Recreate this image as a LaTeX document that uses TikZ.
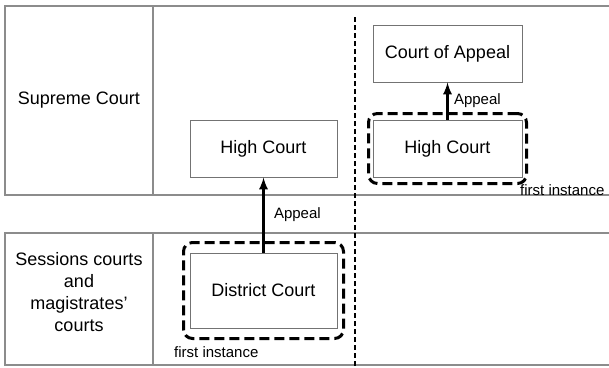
\documentclass[tikz,border=0pt]{standalone}
\usepackage{fontspec}
\setmainfont{Liberation Sans}
\usetikzlibrary{positioning,fit}
\begin{document}
\begin{tikzpicture}[x=1pt, y=-1pt,
    frame/.style={draw=gray!90, line width=1.2pt},
    court/.style={draw=gray!90!black, line width=1pt, minimum width=147pt, minimum height=57pt, inner sep=0pt, font=\fontsize{18}{22}\selectfont},
    group/.style={draw, dashed, line width=3pt, dash pattern=on 10pt off 5pt, rounded corners=9pt},
    note/.style={inner sep=0pt, font=\fontsize{15}{18}\selectfont},
    appeal/.style={-latex, line width=3pt}]
    \useasboundingbox (0,0) rectangle (609,367);

    % Bands
    \draw[frame] (609,6) -- (5,6) -- (5,195) -- (609,195);
    \draw[frame] (153,6) -- (153,195);
    \draw[frame] (609,233) -- (5,233) -- (5,365) -- (609,365);
    \draw[frame] (153,233) -- (153,365);

    % Split between the two routes
    \draw[line width=2pt, dash pattern=on 5pt off 3pt] (355,17) -- (355,367);

    % Row labels
    \node[font=\fontsize{18}{22}\selectfont] (supreme) at (79,100) {Supreme Court};
    \node[font=\fontsize{18}{22}\selectfont, align=center] (lower) at (79,292) {Sessions courts\\and\\magistrates'\\courts};

    % Left route
    \node[court, minimum height=75pt] (district) at (263.5,290.5) {District Court};
    \node[court] (highl) at (263.5,148.5) {High Court};
    \node[group, fit=(district), inner xsep=6pt, inner ysep=10pt] (districtgroup) {};
    \draw[appeal] (district.north) -- node[note, right=9pt] (appeall) {Appeal} (highl.south);
    \node[note, anchor=north west] (firstl) at ([xshift=-8pt,yshift=-6pt]districtgroup.south west) {first instance};

    % Right route
    \node[court, minimum width=149pt] (highr) at (447.5,148.5) {High Court};
    \node[court, minimum width=149pt] (coa) at (447.5,53.5) {Court of Appeal};
    \node[group, fit=(highr), inner xsep=4pt, inner ysep=6pt] (highgroup) {};
    \draw[appeal] (highr.north) -- node[note, right=5pt] (appealr) {Appeal} (coa.south);
    \node[note, anchor=north west] (firstr) at ([xshift=-8pt,yshift=1pt]highgroup.south east) {first instance};

\end{tikzpicture}
\end{document}
